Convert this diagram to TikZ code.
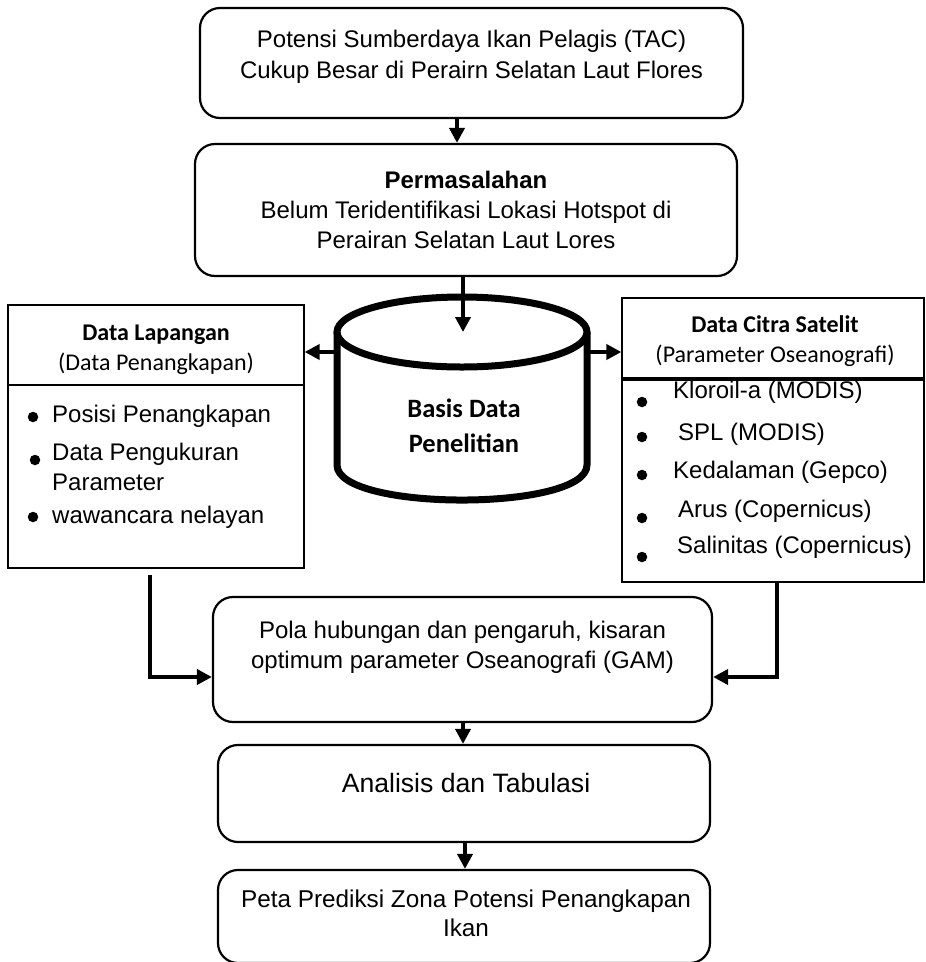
\documentclass[tikz,border=0pt]{standalone}
\usepackage{fontspec}
\setmainfont{Liberation Sans}
\newfontfamily\calib{Carlito}
\usetikzlibrary{arrows.meta}

\tikzset{
  rbox/.style={draw, line width=2.2pt, rounded corners=20pt, inner sep=0pt},
  sbox/.style={draw, line width=1.3pt, inner sep=0pt},
  conn/.style={line width=4pt, -{Triangle[length=15pt,width=15pt]}},
  txt/.style={inner sep=0pt, anchor=base, font=\fontsize{24}{28}\selectfont},
  ltxt/.style={txt, anchor=base west},
  head/.style={inner sep=0pt, anchor=base, font=\calib\fontsize{24}{28}\selectfont},
  dot/.style={circle, fill, inner sep=0pt, minimum size=10.5pt},
}

\begin{document}
\begin{tikzpicture}[x=1pt, y=-1pt]
\useasboundingbox (0,0) rectangle (926,962);

% main flow boxes
\node[rbox, minimum width=543pt, minimum height=110pt] (b1) at (471.5,63) {};
\node[txt] (t1a) at (471.5,47) {Potensi Sumberdaya Ikan Pelagis (TAC)};
\node[txt] (t1b) at (471.5,78) {Cukup Besar di Perairn Selatan Laut Flores};

\node[rbox, minimum width=542pt, minimum height=132pt] (b2) at (466,210) {};
\node[txt, font=\bfseries\fontsize{24}{28}\selectfont] (t2a) at (466,188) {Permasalahan};
\node[txt] (t2b) at (466,218) {Belum Teridentifikasi Lokasi Hotspot di};
\node[txt] (t2c) at (466,248) {Perairan Selatan Laut Lores};

% database cylinder
\node[minimum width=251pt, minimum height=203pt, inner sep=0pt] (db) at (462,398.5) {};
\coordinate (dbtop) at (463,332);
\draw[line width=7pt] (337,332) -- (337,465)
  .. controls (337,511.7) and (587,511.7) .. (587,465) -- (587,332);
\draw[line width=7pt] (462,332) ellipse [x radius=125, y radius=35];
\node[head, font=\calib\bfseries\fontsize{26.5}{30}\selectfont] (dbt1) at (464,417) {Basis Data};
\node[head, font=\calib\bfseries\fontsize{26.5}{30}\selectfont] (dbt2) at (464,452) {Penelitian};

% field data box
\node[sbox, minimum width=296pt, minimum height=263pt] (L) at (156,436.5) {};
\draw[line width=1.3pt] (L.west |- 0,385) -- (L.east |- 0,385);
\node[head, font=\calib\bfseries\fontsize{24}{28}\selectfont] (lh1) at (156,340) {Data Lapangan};
\node[head] (lh2) at (156,370) {(Data Penangkapan)};
\node[dot] (ld1) at (33,417) {};
\node[ltxt] (lt1) at (52,422) {Posisi Penangkapan};
\node[dot] (ld2) at (35,460) {};
\node[ltxt] (lt2) at (52,460) {Data Pengukuran};
\node[ltxt] (lt3) at (52,490) {Parameter};
\node[dot] (ld3) at (33,517) {};
\node[ltxt] (lt4) at (52,523) {wawancara nelayan};

% satellite data boxes
\node[sbox, minimum width=302pt, minimum height=80pt] (Rh) at (773,338) {};
\node[sbox, minimum width=302pt, minimum height=202pt] (Rb) at (773,481) {};
\node[head, font=\calib\bfseries\fontsize{24}{28}\selectfont] (rh1) at (775,332) {Data Citra Satelit};
\node[head] (rh2) at (775,362) {(Parameter Oseanografi)};
\node[dot] (rd1) at (642,402) {};
\node[ltxt] (rt1) at (673,398.5) {Kloroil-a (MODIS)};
\node[dot] (rd2) at (642,437) {};
\node[ltxt] (rt2) at (678,440) {SPL (MODIS)};
\node[dot] (rd3) at (642,475) {};
\node[ltxt] (rt3) at (673,478) {Kedalaman (Gepco)};
\node[dot] (rd4) at (642,518) {};
\node[ltxt] (rt4) at (678,517) {Arus (Copernicus)};
\node[dot] (rd5) at (642,557) {};
\node[ltxt] (rt5) at (677,553) {Salinitas (Copernicus)};

% analysis boxes
\node[rbox, minimum width=499pt, minimum height=125pt] (b3) at (462.5,659.5) {};
\node[txt] (t3a) at (462.5,638) {Pola hubungan dan pengaruh, kisaran};
\node[txt] (t3b) at (462.5,668) {optimum parameter Oseanografi (GAM)};

\node[rbox, minimum width=492pt, minimum height=97pt] (b4) at (464,793.5) {};
\node[txt, font=\fontsize{26.6}{30}\selectfont] (t4) at (466,792) {Analisis dan Tabulasi};

\node[rbox, minimum width=492pt, minimum height=93pt] (b5) at (464,916.5) {};
\node[txt, font=\fontsize{24.3}{28}\selectfont] (t5a) at (466,907) {Peta Prediksi Zona Potensi Penangkapan};
\node[txt, font=\fontsize{24.3}{28}\selectfont] (t5b) at (466,936) {Ikan};

% connector columns and rows
\coordinate (c1) at (457,0);
\coordinate (c3) at (463,0);
\coordinate (c4) at (465,0);
\coordinate (ra) at (0,352);
\coordinate (rh) at (0,677);
\coordinate (lstart) at (150,575);
\coordinate (cr) at (777,0);

% connectors
\draw[conn] (b1.south -| c1) -- (b2.north -| c1);
\draw[conn] (b2.south -| dbtop) -- (dbtop);
\draw[conn] (db.west |- ra) -- (L.east |- ra);
\draw[conn] (db.east |- ra) -- (Rh.west |- ra);
\draw[conn] (lstart) |- (b3.west |- rh);
\draw[conn] (Rb.south -| cr) |- (b3.east |- rh);
\draw[conn] (b3.south -| c3) -- (b4.north -| c3);
\draw[conn] (b4.south -| c4) -- (b5.north -| c4);
\end{tikzpicture}
\end{document}
